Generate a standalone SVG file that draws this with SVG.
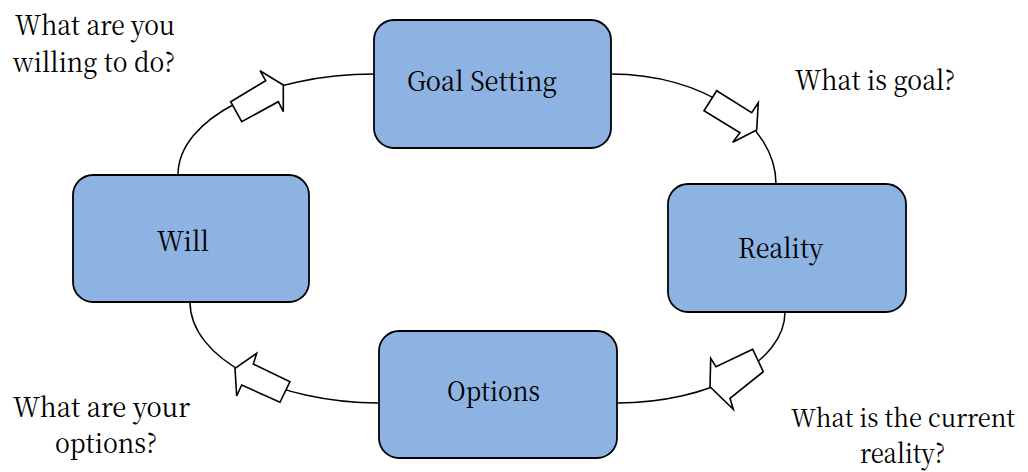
<svg xmlns="http://www.w3.org/2000/svg" width="1028" height="472" viewBox="0 0 1028 472">
<style>
.box{fill:#8DB3E2;stroke:#000;stroke-width:1.8}
.lbl{font-family:'Noto Serif CJK SC','Liberation Serif',serif;font-size:27px;fill:#000;text-anchor:middle}
.conn{fill:none;stroke:#000;stroke-width:1.5}
.arr{fill:#fff;stroke:#000;stroke-width:1.6;stroke-linejoin:miter}
</style>
<rect width="1028" height="472" fill="#fff"/>
<g id="connectors">
<path class="conn" d="M374,74 C266,74 178,119 178,175"/>
<path class="conn" d="M611,74 C702,74 776,123 776,184"/>
<path class="conn" d="M785,312 C785,362 710,403 617,403"/>
<path class="conn" d="M379,403 C275,403 190,358 190,302"/>
<polygon class="arr" points="230.7,101.7 265.7,80.7 260,70.7 283.3,85 283.3,111.7 278.3,101.7 241.7,121.7"/>
<polygon class="arr" points="716.7,90.7 751.7,112.7 758.3,102.7 756.7,130 732.7,142.3 740,132.7 704,110.7"/>
<polygon class="arr" points="752.7,349.3 716,366.7 710.7,358.3 710,386.7 733.3,409.3 730,398.3 763.3,371.7"/>
<polygon class="arr" points="290,381.7 253.3,364 256.7,353.3 235,368.3 236.7,396 241.7,385 280,402.3"/>
</g>
<g id="goal">
<rect class="box" x="374" y="20" width="237" height="128" rx="20"/>
<text class="lbl" x="482" y="91" textLength="150" lengthAdjust="spacingAndGlyphs">Goal Setting</text>
</g>
<g id="reality">
<rect class="box" x="668" y="184" width="238" height="128" rx="20"/>
<text class="lbl" x="780.5" y="258" textLength="85" lengthAdjust="spacingAndGlyphs">Reality</text>
</g>
<g id="options">
<rect class="box" x="379" y="331" width="238" height="127" rx="20"/>
<text class="lbl" x="493.5" y="401" textLength="93" lengthAdjust="spacingAndGlyphs">Options</text>
</g>
<g id="will">
<rect class="box" x="73" y="175" width="236" height="127" rx="20"/>
<text class="lbl" x="183" y="251" textLength="52" lengthAdjust="spacingAndGlyphs">Will</text>
</g>
<g id="q-will">
<text class="lbl" x="95" y="35" textLength="160" lengthAdjust="spacingAndGlyphs">What are you</text>
<text class="lbl" x="94" y="72" textLength="162" lengthAdjust="spacingAndGlyphs">willing to do?</text>
</g>
<g id="q-goal">
<text class="lbl" x="875" y="90" textLength="160" lengthAdjust="spacingAndGlyphs">What is goal?</text>
</g>
<g id="q-reality">
<text class="lbl" x="903" y="427" style="font-size:25px" textLength="224" lengthAdjust="spacingAndGlyphs">What is the current</text>
<text class="lbl" x="902.5" y="463" textLength="85" lengthAdjust="spacingAndGlyphs">reality?</text>
</g>
<g id="q-options">
<text class="lbl" x="101.5" y="417" textLength="177" lengthAdjust="spacingAndGlyphs">What are your</text>
<text class="lbl" x="106" y="453" textLength="102" lengthAdjust="spacingAndGlyphs">options?</text>
</g>
</svg>
